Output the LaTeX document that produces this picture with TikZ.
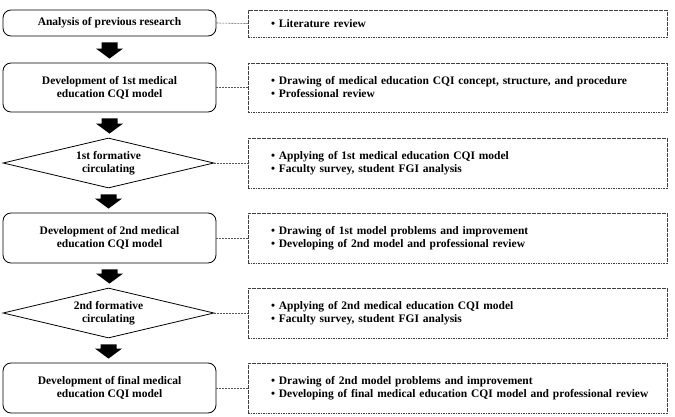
\documentclass[tikz,border=0pt]{standalone}
\usepackage{fontspec}
\setmainfont{Liberation Serif}
\usetikzlibrary{shapes.geometric,calc}
\newcommand\flowarrow[2]{%
  \fill let \p1=(#1.south), \p2=(#2.north) in
    (\x1-8pt,\y1-6pt) -- (\x1+8pt,\y1-6pt) -- (\x1+8pt,\y2+14pt) -- (\x1+13.5pt,\y2+14pt)
    -- (\x1,\y2+4pt) -- (\x1-13.5pt,\y2+14pt) -- (\x1-8pt,\y2+14pt) -- cycle;}
\begin{document}
\begin{tikzpicture}[x=1pt,y=-1pt,
  txt/.style={font=\bfseries\fontsize{11.5}{13}\selectfont},
  stepbox/.style={txt,draw,rounded corners=8pt,line width=0.8pt,minimum width=213pt,align=center,inner sep=0pt},
  decide/.style={txt,draw,diamond,line width=0.8pt,minimum width=211pt,minimum height=50pt,shape aspect=4.2,align=center,inner sep=0pt},
  notebox/.style={txt,draw=black!75,dash pattern=on 1.6pt off 0.9pt,line width=0.6pt,minimum width=419pt,text width=373pt,inner xsep=23pt,inner ysep=0pt,align=left},
  conn/.style={draw=black!65,dash pattern=on 2pt off 1pt,line width=0.6pt}]
\useasboundingbox (0,0) rectangle (675,417);
\node[stepbox,minimum height=26pt] (s1) at (109.5,23) {Analysis of previous research};
\node[stepbox,minimum height=49pt] (s2) at (109.5,87.5) {Development of 1st medical\\education CQI model};
\node[decide] (d1) at (108.5,163) {1st formative\\circulating};
\node[stepbox,minimum height=50pt] (s3) at (109.5,238) {Development of 2nd medical\\education CQI model};
\node[decide] (d2) at (108.5,313) {2nd formative\\circulating};
\node[stepbox,minimum height=50pt] (s4) at (109.5,388) {Development of final medical\\education CQI model};

\node[notebox,minimum height=27pt] (n1) at (457.5,23.5) {\textbullet\ Literature review};
\node[notebox,minimum height=49pt] (n2) at (457.5,87.5) {\mbox{\textbullet\ Drawing of medical education CQI concept, structure, and procedure}\\\textbullet\ Professional review};
\node[notebox,minimum height=50pt] (n3) at (457.5,163) {\textbullet\ Applying of 1st medical education CQI model\\\textbullet\ Faculty survey, student FGI analysis};
\node[notebox,minimum height=50pt] (n4) at (457.5,238) {\textbullet\ Drawing of 1st model problems and improvement\\\textbullet\ Developing of 2nd model and professional review};
\node[notebox,minimum height=50pt] (n5) at (457.5,313) {\textbullet\ Applying of 2nd medical education CQI model\\\textbullet\ Faculty survey, student FGI analysis};
\node[notebox,minimum height=50pt] (n6) at (457.5,388) {\textbullet\ Drawing of 2nd model problems and improvement\\\mbox{\textbullet\ Developing of final medical education CQI model and professional review}};

\draw[conn] (s1.east) -- (n1.west);
\draw[conn] (s2.east) -- (n2.west);
\draw[conn] (d1.east) -- (n3.west);
\draw[conn] (s3.east) -- (n4.west);
\draw[conn] (d2.east) -- (n5.west);
\draw[conn] (s4.east) -- (n6.west);

\flowarrow{s1}{s2}
\flowarrow{s2}{d1}
\flowarrow{d1}{s3}
\flowarrow{s3}{d2}
\flowarrow{d2}{s4}
\end{tikzpicture}
\end{document}
